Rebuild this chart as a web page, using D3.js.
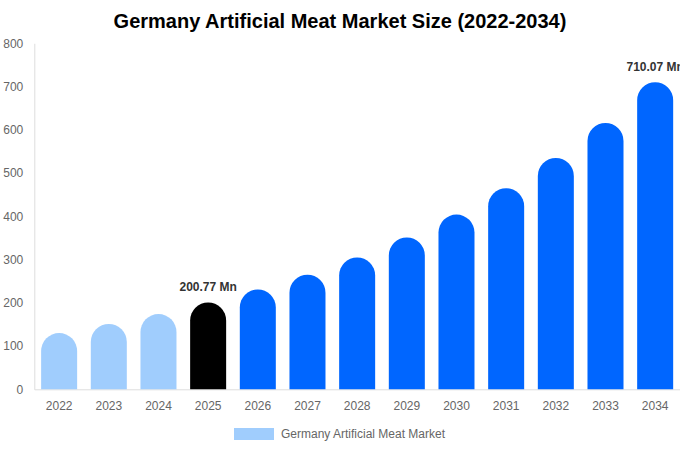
<!DOCTYPE html>
<html><head><meta charset="utf-8">
<script src="https://cdn.jsdelivr.net/npm/d3@7"></script>
<style>body{margin:0;background:#fff;}svg{display:block;font-family:"Liberation Sans",Arial,sans-serif;}</style>
</head><body><svg id="c" width="680" height="450"></svg>
<script>
const years = ["2022","2023","2024","2025","2026","2027","2028","2029","2030","2031","2032","2033","2034"];
const values = [130, 151, 174, 200.77, 231, 265, 305, 351, 404, 465, 535, 616, 710.07];
const barColors = ["#a0cdfd","#a0cdfd","#a0cdfd","#000000","#0066ff","#0066ff","#0066ff","#0066ff","#0066ff","#0066ff","#0066ff","#0066ff","#0066ff"];
const yTicks = [0,100,200,300,400,500,600,700,800];
const labelled = {"2025":"200.77 Mn","2034":"710.07 Mn"};
const title = "Germany Artificial Meat Market Size (2022-2034)";
const legendLabel = "Germany Artificial Meat Market";

const svg = d3.select("#c");
const m = {left:34.3, right:680, top:43.3, bottom:389.3};
const x = d3.scaleBand().domain(years).range([m.left, m.right]).paddingInner(0.275).paddingOuter(0.1375);
const y = d3.scaleLinear().domain([0,800]).range([m.bottom, m.top]);

svg.append("text").attr("x",340).attr("y",28).attr("text-anchor","middle")
  .attr("font-size",20).attr("font-weight","bold").attr("fill","#000").text(title);

// axes
const ya = svg.append("g").attr("transform",`translate(${m.left},0)`).call(d3.axisLeft(y).tickValues(yTicks).tickSize(0).tickPadding(11));
ya.select(".domain").attr("stroke","#dddddd");
ya.selectAll("text").attr("fill","#666").attr("font-size",12).style("font-family","'Liberation Sans',Arial,sans-serif");

const xa = svg.append("g").attr("transform",`translate(0,${m.bottom})`).call(d3.axisBottom(x).tickSize(0).tickPadding(12));
xa.select(".domain").attr("stroke","#dddddd");
xa.selectAll("text").attr("fill","#666").attr("font-size",12).style("font-family","'Liberation Sans',Arial,sans-serif");

const data = years.map((yr,i)=>({yr, v:values[i], c:barColors[i]}));
function barPath(d){
  const x0 = x(d.yr), w = x.bandwidth(), r = w/2;
  const top = y(d.v), bot = y(0);
  return `M${x0},${bot} L${x0},${top+r} A${r},${r} 0 0 1 ${x0+w},${top+r} L${x0+w},${bot} Z`;
}
svg.append("g").selectAll("path").data(data).join("path")
  .attr("d",barPath).attr("fill",d=>d.c);

svg.append("g").selectAll("text").data(data.filter(d=>labelled[d.yr])).join("text")
  .attr("x",d=>x(d.yr)+x.bandwidth()/2).attr("y",d=>y(d.v)-11)
  .attr("text-anchor","middle").attr("font-size",12).attr("font-weight","bold").attr("fill","#333")
  .text(d=>labelled[d.yr]);

// legend
svg.append("rect").attr("x",234).attr("y",428).attr("width",40).attr("height",12).attr("fill","#a0cdfd");
svg.append("text").attr("x",281).attr("y",438).attr("font-size",12).attr("fill","#666").text(legendLabel);
</script></body></html>
